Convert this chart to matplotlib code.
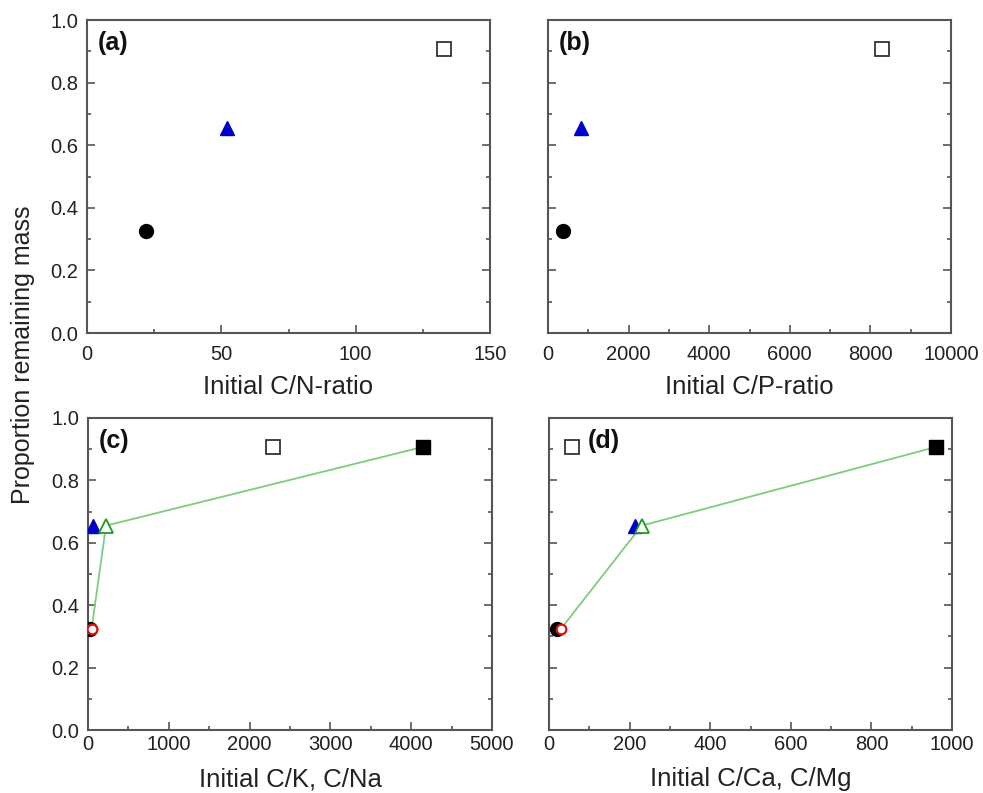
import numpy as np
import matplotlib
matplotlib.use("Agg")
import matplotlib.pyplot as plt
from matplotlib.ticker import MultipleLocator, FormatStrFormatter

plt.rcParams['font.family'] = ['Liberation Sans', 'DejaVu Sans']

# proportion remaining mass for the three litter types
mass = [0.325, 0.655, 0.907]

# (a) C/N, (b) C/P
cn = [22, 52, 133]
cp = [370, 820, 8290]
# (c) C/K (first series), C/Na (second series)
ck = [30, 58, 2290]
cna = [45, 223, 4140]
# (d) C/Ca (first series), C/Mg (second series)
cca = [20, 213, 58]
cmg = [30, 230, 960]

fig = plt.figure(figsize=(9.83, 7.93), dpi=100)

W, H = 983, 793
def box(l, r, t, b):
    return [l / W, 1 - b / H, (r - l) / W, (b - t) / H]

axa = fig.add_axes(box(87, 490, 20, 333))
axb = fig.add_axes(box(548, 951, 20, 333))
axc = fig.add_axes(box(88, 492, 418, 730))
axd = fig.add_axes(box(549, 952, 418, 730))

def first_series(ax, xs):
    ax.plot(xs[0], mass[0], 'o', color='black', ms=10, zorder=3)
    ax.plot(xs[1], mass[1], '^', color='#0000cc', ms=10, zorder=3)
    ax.plot(xs[2], mass[2], 's', mfc='white', mec='#333333', mew=1.3, ms=10, zorder=3)

def second_series(ax, xs):
    ax.plot(xs, mass, '-', color='#7fcc7f', lw=1.3, zorder=2)
    ax.plot(xs[0], mass[0], 'o', mfc='white', mec='#dd1111', mew=1.6, ms=7, zorder=4)
    ax.plot(xs[1], mass[1], '^', mfc='white', mec='#229922', mew=1.3, ms=10, zorder=4)
    ax.plot(xs[2], mass[2], 's', color='black', ms=10, zorder=4)

first_series(axa, cn)
first_series(axb, cp)
first_series(axc, ck)
second_series(axc, cna)
first_series(axd, cca)
second_series(axd, cmg)

setup = [
    (axa, 150, 50, 25, 'Initial C/N-ratio', '(a)', 0.027, 8.5, 8),
    (axb, 10000, 2000, 1000, 'Initial C/P-ratio', '(b)', 0.027, 8.5, 8),
    (axc, 5000, 1000, 500, 'Initial C/K, C/Na', '(c)', 0.027, 3.5, 9.5),
    (axd, 1000, 200, 100, 'Initial C/Ca, C/Mg', '(d)', 0.097, 3.5, 9.5),
]
for ax, xmax, maj, mnr, xlabel, tag, tagx, xpad, lpad in setup:
    ax.set_xlim(0, xmax)
    ax.set_ylim(0, 1)
    ax.xaxis.set_major_locator(MultipleLocator(maj))
    ax.xaxis.set_minor_locator(MultipleLocator(mnr))
    ax.yaxis.set_major_locator(MultipleLocator(0.2))
    ax.yaxis.set_minor_locator(MultipleLocator(0.1))
    ax.yaxis.set_major_formatter(FormatStrFormatter('%.1f'))
    ax.tick_params(which='both', direction='in', left=True, right=True,
                   top=False, bottom=True, colors='#555555', labelcolor='#222222',
                   labelsize=14.5, width=1.2)
    ax.tick_params(which='major', length=6)
    ax.tick_params(which='minor', length=3)
    ax.tick_params(axis='x', pad=xpad)
    ax.tick_params(axis='y', pad=6.5)
    for s in ax.spines.values():
        s.set_color('#555555')
        s.set_linewidth(1.5)
    ax.set_xlabel(xlabel, fontsize=18.5, color='#222222', labelpad=lpad)
    ax.text(tagx, 0.965, tag, transform=ax.transAxes, fontsize=18,
            fontweight='bold', va='top', ha='left', color='#111111')

for ax in (axb, axd):
    ax.tick_params(labelleft=False)

fig.text(0.023, 1 - 355 / H, 'Proportion remaining mass', rotation=90, fontsize=18,
         va='center', ha='center', color='#222222')

fig.savefig('out.png', dpi=100)
